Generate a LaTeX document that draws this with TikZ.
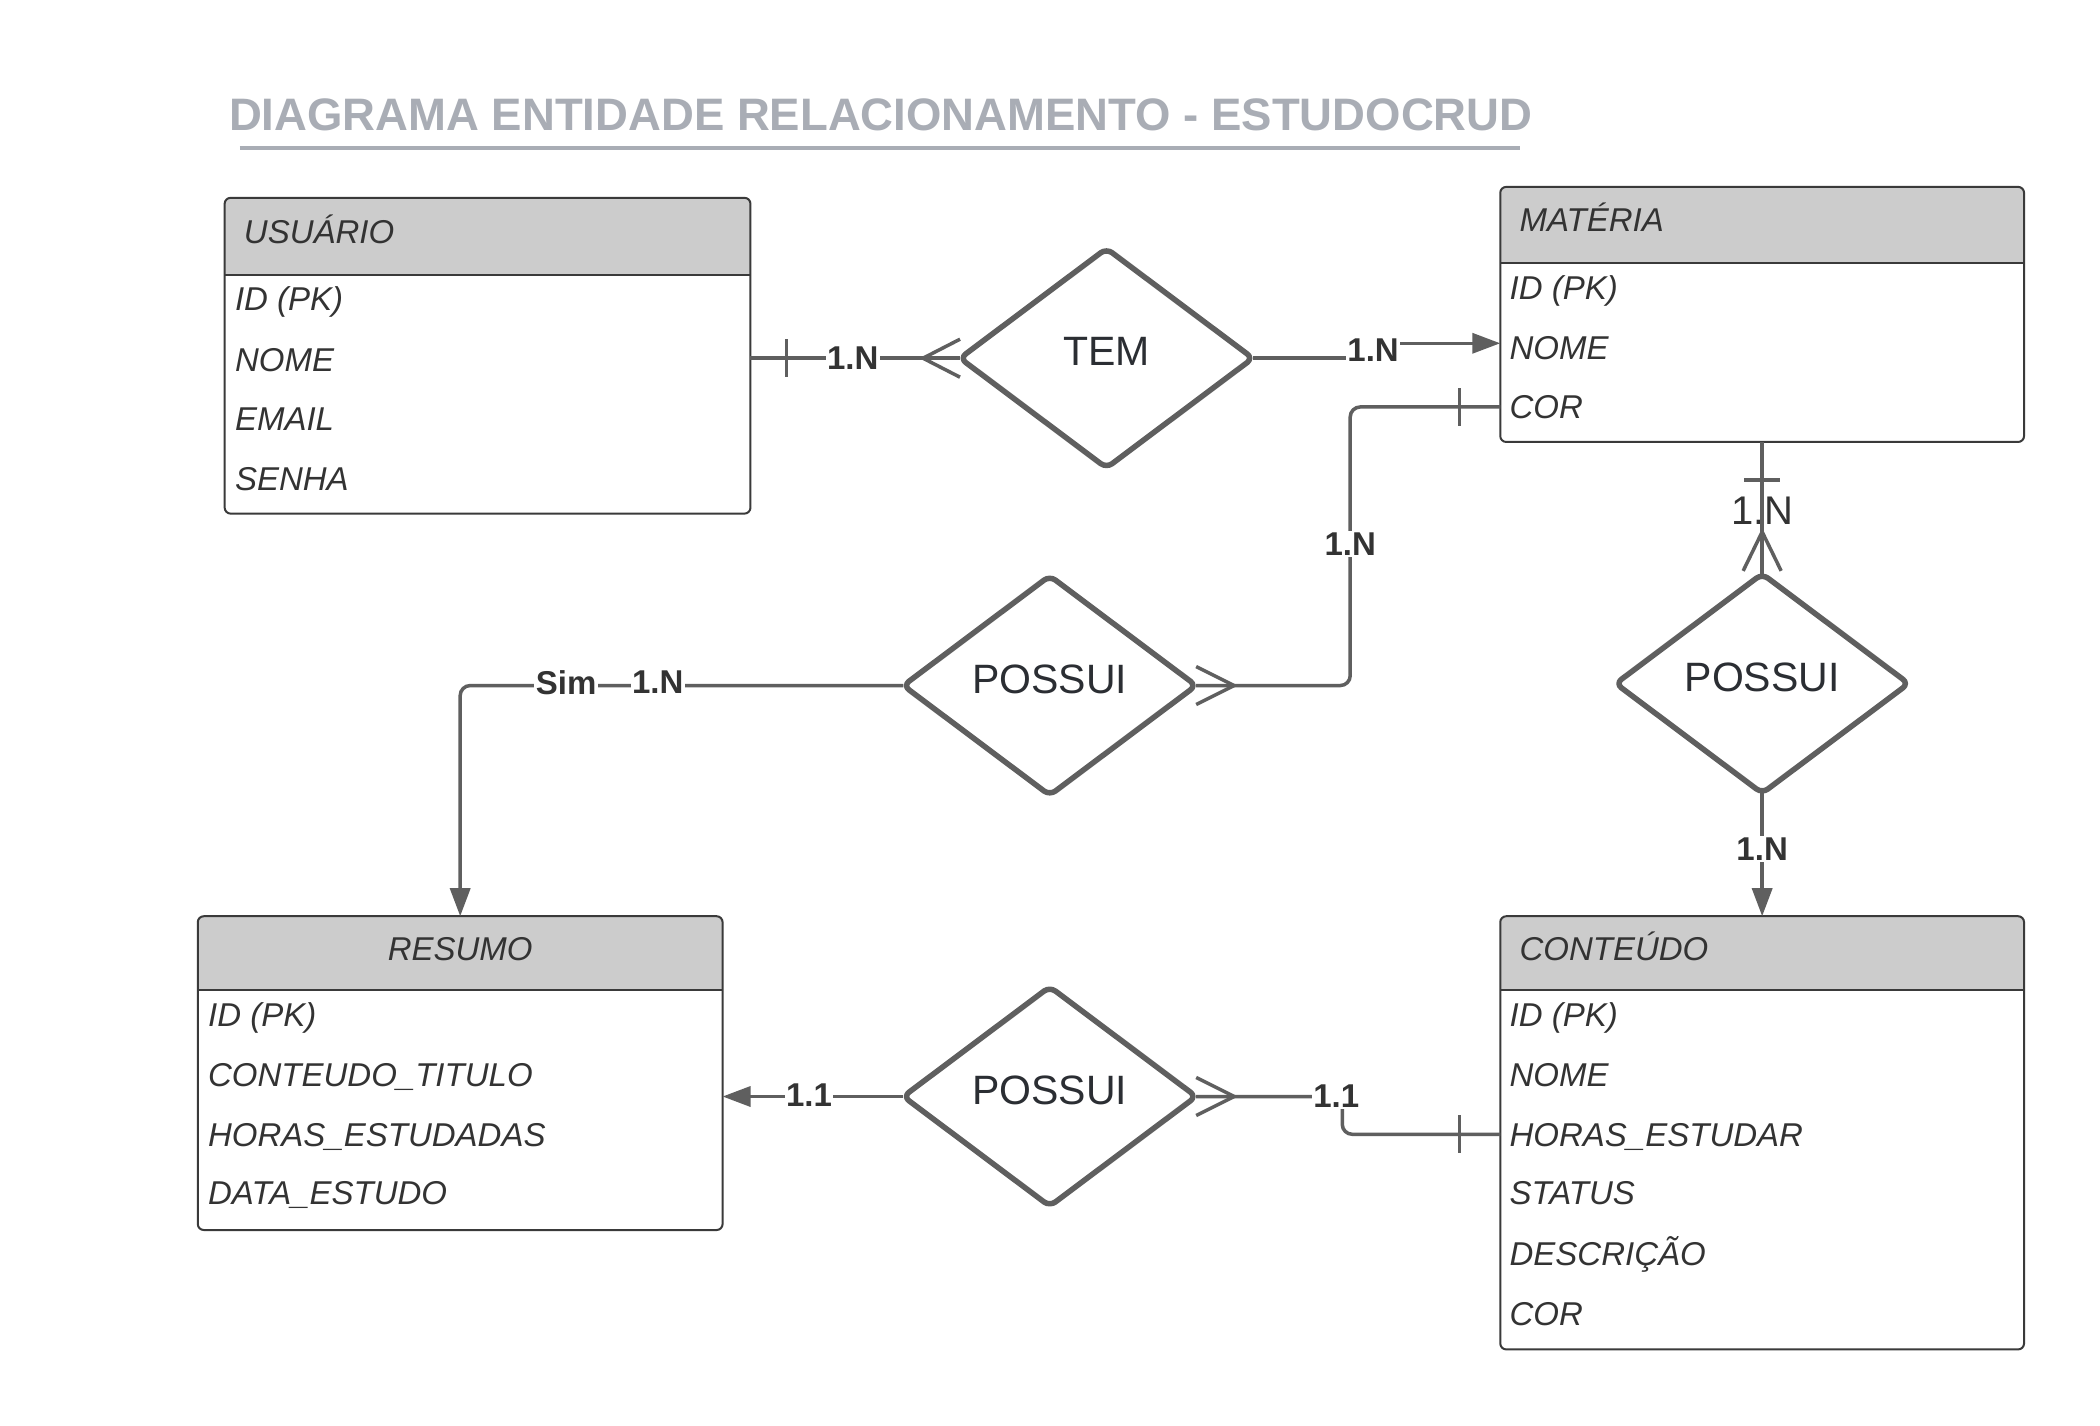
\documentclass[tikz,border=0pt]{standalone}
\usepackage{fontspec}
\setmainfont{Liberation Sans}
\usetikzlibrary{arrows.meta,calc}
\definecolor{lineC}{HTML}{5F5F5F}
\definecolor{boxC}{HTML}{3A3A3A}
\definecolor{hdrC}{HTML}{CCCCCC}
\definecolor{txtC}{HTML}{333333}
\definecolor{titleC}{HTML}{A9ADB5}
\definecolor{diaTxt}{HTML}{2B2E33}
\newcommand\fsz[1]{\fontsize{#1}{#1}\selectfont}
\newcommand\erframe[2]{%
  \begin{scope}
    \clip (#1.north west) rectangle (#1.east |- 0,#2);
    \fill[hdrC, rounded corners=6pt] (#1.north west) rectangle (#1.south east);
  \end{scope}
  \draw[boxC, line width=2pt] (#1.west |- 0,#2) -- (#1.east |- 0,#2);
  \draw[boxC, line width=2pt, rounded corners=6pt] (#1.north west) rectangle (#1.south east);}
\newcommand\erdiamond[1]{%
  \draw[dia] (#1.west) -- (#1.north) -- (#1.east) -- (#1.south) -- cycle;}
\begin{document}
\begin{tikzpicture}[x=0.995pt,y=-0.995pt,
  tblshape/.style={inner sep=0pt, draw=none},
  attr/.style={anchor=base west, inner sep=0pt, text=txtC, font=\fsz{33}\itshape},
  dianode/.style={inner sep=0pt, minimum width=292.5pt, minimum height=219pt, text=diaTxt, font=\fsz{41}, text height=29pt, text depth=14pt},
  dia/.style={draw=lineC, line width=5.5pt, rounded corners=7pt, line join=round},
  conn/.style={draw=lineC, line width=3.5pt},
  arr/.style={-{Triangle[length=28pt,width=20pt]}},
  lbl/.style={fill=white, text=txtC, font=\fsz{33}\bfseries, inner sep=1.5pt},
  lblplain/.style={text=txtC, font=\fsz{40}, inner sep=0pt},
  ttl/.style={anchor=base west, inner sep=0pt, text=titleC, font=\fsz{45.5}\bfseries}]
\useasboundingbox[fill=white] (0,0) rectangle (2110.55,1432.16);

% title
\node[ttl] (title) at (230,131) {DIAGRAMA ENTIDADE RELACIONAMENTO - ESTUDOCRUD};
\draw[titleC, line width=4pt] (241,149) -- (1528,149);

% tables
\node[tblshape, minimum width=525.4pt, minimum height=315.4pt] (usu) at (490,357.5) {};
\erframe{usu}{276}
\node[attr] (usuh) at (245,245) {USUÁRIO};
\node[attr] (usu1) at (236,312) {ID (PK)};
\node[attr] (usu2) at (236,373) {NOME};
\node[attr] (usu3) at (236,433) {EMAIL};
\node[attr] (usu4) at (236,493) {SENHA};

\node[tblshape, minimum width=523.4pt, minimum height=254.7pt] (mat) at (1771,316) {};
\erframe{mat}{264}
\node[attr] (math) at (1527,233) {MATÉRIA};
\node[attr] (mat1) at (1517,301) {ID (PK)};
\node[attr] (mat2) at (1517,361) {NOME};
\node[attr] (mat3) at (1517,421) {COR};

\node[tblshape, minimum width=524.4pt, minimum height=313.4pt] (res) at (462.5,1078.5) {};
\erframe{res}{995}
\node[attr, anchor=base] (resh) at (462.5,965) {RESUMO};
\node[attr] (res1) at (209,1032) {ID (PK)};
\node[attr] (res2) at (209,1092) {CONTEUDO\_TITULO};
\node[attr] (res3) at (209,1152) {HORAS\_ESTUDADAS};
\node[attr] (res4) at (209,1211) {DATA\_ESTUDO};

\node[tblshape, minimum width=523.4pt, minimum height=432.8pt] (con) at (1771,1138.5) {};
\erframe{con}{995}
\node[attr] (conh) at (1527,965) {CONTEÚDO};
\node[attr] (con1) at (1517,1032) {ID (PK)};
\node[attr] (con2) at (1517,1092) {NOME};
\node[attr] (con3) at (1517,1152) {HORAS\_ESTUDAR};
\node[attr] (con4) at (1517,1211) {STATUS};
\node[attr] (con5) at (1517,1272) {DESCRIÇÃO};
\node[attr] (con6) at (1517,1332) {COR};

% relationship diamonds
\node[dianode] (tem) at (1112,360) {TEM};
\node[dianode] (pos1) at (1055,689) {POSSUI};
\node[dianode] (pos2) at (1771,687) {POSSUI};
\node[dianode] (pos3) at (1055,1102) {POSSUI};
\erdiamond{tem}
\erdiamond{pos1}
\erdiamond{pos2}
\erdiamond{pos3}

% helper coordinates
\coordinate (c1a) at (usu.east |- tem.west);
\coordinate (p1) at (857,360);
\coordinate (p2) at (1380,352);
\coordinate (matnome) at (mat.west |- 0,345);
\coordinate (matcor) at (mat.west |- 0,409);
\coordinate (p3) at (1357,547);
\coordinate (p4a) at (569,686);
\coordinate (p4b) at (661,686);
\coordinate (p5) at (1771,513);
\coordinate (p6) at (1771,853);
\coordinate (p7) at (813,1101);
\coordinate (conhor) at (con.west |- 0,1140);
\coordinate (v8) at (1349,1102);
\coordinate (p8) at (1343,1102);

% USUARIO - TEM
\draw[conn] (c1a) -- (tem.west);
\draw[conn] ([xshift=36pt]c1a) ++(0,-19) -- ++(0,38);
\draw[conn] ([yshift=19pt]tem.west) -- ([xshift=-37pt]tem.west) -- ([yshift=-19pt]tem.west);

% TEM - MATERIA
\draw[conn, arr] (tem.east) -- (p2 |- tem.east) -- (p2 |- matnome) -- (matnome);

% MATERIA COR - POSSUI 1
\draw[conn, rounded corners=10pt] (matcor) -- (p3 |- matcor) -- (p3 |- pos1.east) -- (pos1.east);
\draw[conn] ([xshift=-41pt]matcor) ++(0,-19) -- ++(0,38);
\draw[conn] ([yshift=19pt]pos1.east) -- ([xshift=38pt]pos1.east) -- ([yshift=-19pt]pos1.east);

% POSSUI 1 - RESUMO
\draw[conn, arr, rounded corners=10pt] (pos1.west) -- (res.north |- pos1.west) -- (res.north);

% MATERIA - POSSUI 2
\node[lblplain] (l5) at (p5) {1.N};
\draw[conn] (mat.south) -- (pos2.north);
\draw[conn] ([yshift=-38pt]mat.south) +(-18,0) -- +(18,0);
\draw[conn] ([xshift=-19pt,yshift=3pt]pos2.north) -- ([yshift=42pt]pos2.north) -- ([xshift=19pt,yshift=3pt]pos2.north);

% POSSUI 2 - CONTEUDO
\draw[conn, arr] (pos2.south) -- (con.north);

% POSSUI 3 - RESUMO
\draw[conn, arr] (pos3.west) -- (res.east |- pos3.west);

% CONTEUDO - POSSUI 3
\draw[conn, rounded corners=10pt] (conhor) -- (v8 |- conhor) -- (v8 |- pos3.east) -- (pos3.east);
\draw[conn] ([xshift=-41pt]conhor) ++(0,-19) -- ++(0,38);
\draw[conn] ([yshift=19pt]pos3.east) -- ([xshift=38pt]pos3.east) -- ([yshift=-19pt]pos3.east);

% labels
\node[lbl] (l1) at (p1) {1.N};
\node[lbl] (l2) at (p2) {1.N};
\node[lbl] (l3) at (p3) {1.N};
\node[lbl] (l4a) at (p4a) {Sim};
\node[lbl] (l4b) at (p4b) {1.N};
\node[lbl] (l6) at (p6) {1.N};
\node[lbl] (l7) at (p7) {1.1};
\node[lbl] (l8) at (p8) {1.1};
\end{tikzpicture}
\end{document}
